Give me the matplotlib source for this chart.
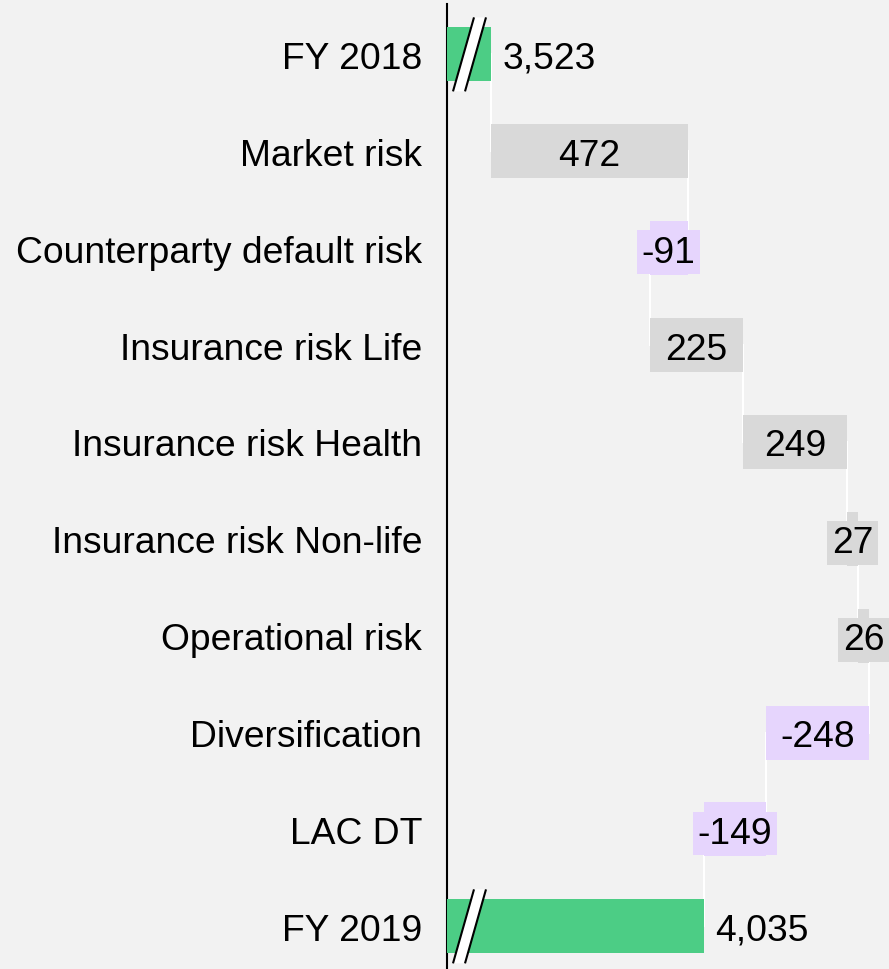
import matplotlib
matplotlib.use("Agg")
import matplotlib.pyplot as plt
from matplotlib.patches import Polygon

plt.rcParams['font.family'] = ['Liberation Sans', 'DejaVu Sans']

categories = ["FY 2018", "Market risk", "Counterparty default risk",
              "Insurance risk Life", "Insurance risk Health",
              "Insurance risk Non-life", "Operational risk",
              "Diversification", "LAC DT", "FY 2019"]
values = [3523, 472, -91, 225, 249, 27, 26, -248, -149, 4035]
is_total = [True, False, False, False, False, False, False, False, False, True]

GREEN = "#4ccd85"
GREY = "#d9d9d9"
PURPLE = "#e6d5fd"
BG = "#f2f2f2"

W, H = 889, 970
fig = plt.figure(figsize=(W / 100, H / 100), dpi=100, facecolor=BG)
ax = fig.add_axes([447 / W, 0.0, 1 - 447 / W, 1 - 5 / H])
ax.set_facecolor(BG)

xmin, xmax = 3417, 4479
ax.set_xlim(xmin, xmax)
ax.set_ylim(9.44, -0.52)

bar_h = 0.557
FS = 26.8

running = 0
prev_end = None
for i, (cat, v, tot) in enumerate(zip(categories, values, is_total)):
    if tot:
        left, width = xmin, v - xmin
        running = v
        ax.barh(i, width, left=left, height=bar_h, color=GREEN, zorder=3)
        ax.annotate(f"{v:,}", (v, i), xytext=(8, 0), textcoords="offset points",
                    ha="left", va="center_baseline", fontsize=FS, color="black", zorder=5)
        # axis break mark
        px = (xmax - xmin) / (W - 447)  # data units per pixel
        py = 1 / 96.9
        hy = 37 * py
        x0 = xmin + 6 * px
        slant = 21 * px
        wdt = 12 * px
        poly = Polygon([(x0, i + hy), (x0 + wdt, i + hy), (x0 + wdt + slant, i - hy),
                        (x0 + slant, i - hy)], closed=True, facecolor="white",
                       edgecolor="none", zorder=4)
        ax.add_patch(poly)
        ax.plot([x0, x0 + slant], [i + hy, i - hy], color="black", lw=1.5, zorder=4.5,
                solid_capstyle="butt")
        ax.plot([x0 + wdt, x0 + wdt + slant], [i + hy, i - hy], color="black", lw=1.5,
                zorder=4.5, solid_capstyle="butt")
        end = v
    else:
        start = running
        end = running + v
        color = GREY if v > 0 else PURPLE
        ax.barh(i, v, left=start, height=bar_h, color=color, zorder=3)
        ax.text((start + end) / 2, i, f"{v:,}", ha="center", va="center_baseline",
                fontsize=FS, color="black", zorder=5,
                bbox=dict(boxstyle="square,pad=0.12", facecolor=color, edgecolor="none"))
        running = end
    if prev_end is not None:
        ax.plot([prev_end, prev_end], [i - 1, i], color="white", lw=1.5, zorder=2)
    prev_end = end

ax.set_yticks(range(len(categories)))
ax.set_yticklabels(categories, fontsize=FS, va="center_baseline")
ax.tick_params(axis="y", length=0, pad=18)
ax.set_xticks([])
for s in ["top", "right", "bottom"]:
    ax.spines[s].set_visible(False)
ax.spines["left"].set_linewidth(1.5)
ax.spines["left"].set_color("black")

fig.savefig("out.png", dpi=100, facecolor=BG)
